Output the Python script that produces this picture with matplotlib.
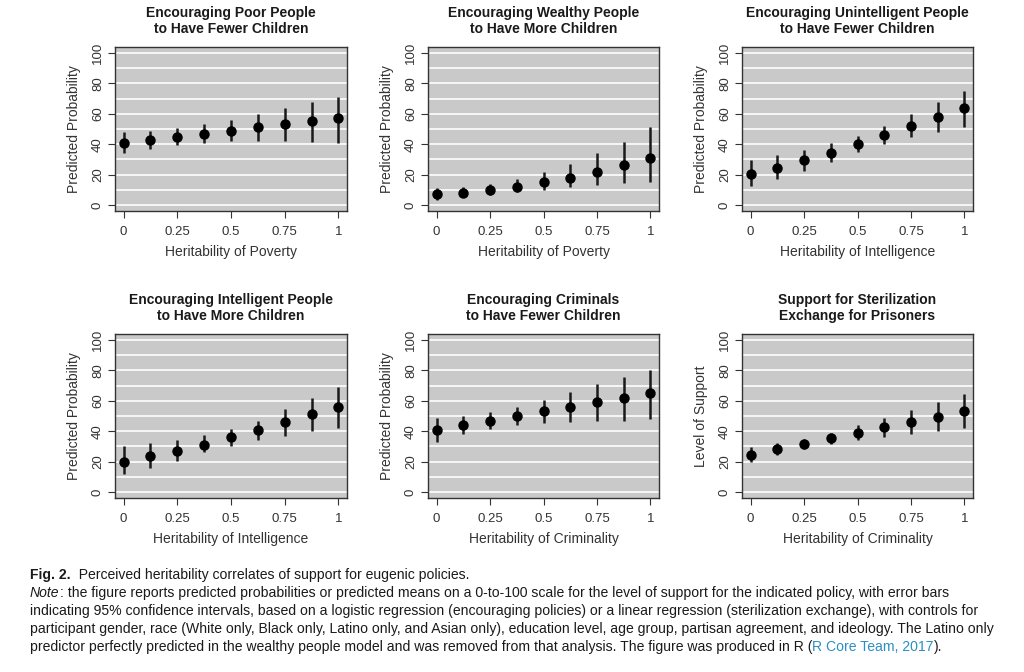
import numpy as np
import matplotlib
matplotlib.use("Agg")
import matplotlib.pyplot as plt
from matplotlib import font_manager

# heritability levels on the x axis
heritability = [0, 0.125, 0.25, 0.375, 0.5, 0.625, 0.75, 0.875, 1]
xtick_vals = [0, 0.25, 0.5, 0.75, 1]
xtick_labels = ["0", "0.25", "0.5", "0.75", "1"]
ytick_vals = [0, 20, 40, 60, 80, 100]

titles = [
    "Encouraging Poor People\nto Have Fewer Children",
    "Encouraging Wealthy People\nto Have More Children",
    "Encouraging Unintelligent People\nto Have Fewer Children",
    "Encouraging Intelligent People\nto Have More Children",
    "Encouraging Criminals\nto Have Fewer Children",
    "Support for Sterilization\nExchange for Prisoners",
]
xlabels = [
    "Heritability of Poverty",
    "Heritability of Poverty",
    "Heritability of Intelligence",
    "Heritability of Intelligence",
    "Heritability of Criminality",
    "Heritability of Criminality",
]
ylabels = ["Predicted Probability"] * 5 + ["Level of Support"]

# predicted values and 95% CI
poor_est = [41, 43, 45, 47, 49, 51, 53, 55, 57]
poor_lo = [34, 37, 39.5, 41, 42, 42, 42, 41.5, 41]
poor_hi = [48, 49, 50.5, 53, 56, 60, 64, 68, 71]

wealthy_est = [7, 8, 10, 12, 15, 18, 22, 26, 31]
wealthy_lo = [3.5, 5, 6.5, 8.5, 10, 11.5, 13, 14.5, 15]
wealthy_hi = [11, 12, 14, 17, 21.5, 27, 34, 41.5, 51]

unintel_est = [20.5, 24.5, 29.5, 34.5, 40, 46, 52, 58, 64]
unintel_lo = [12.5, 17, 22.5, 28.5, 35, 40, 44.5, 48, 51.5]
unintel_hi = [29.5, 33, 36, 40.5, 45.5, 52, 60, 68, 75]

intel_est = [20, 23.5, 27, 31, 36, 40.5, 46, 51, 56]
intel_lo = [12, 16, 20.5, 26, 30.5, 34, 37, 40, 42]
intel_hi = [30, 32, 34.5, 37.5, 41.5, 47, 54.5, 62, 69]

crim_est = [40.5, 44, 46.5, 50, 53, 56, 59, 62, 65]
crim_lo = [33, 38, 41.5, 44, 45.5, 46, 47, 47, 48]
crim_hi = [48.5, 50, 52.5, 56, 60.5, 66, 71, 76, 80]

steril_est = [24.5, 28, 31.5, 35.5, 39, 42.5, 46, 49.5, 53]
steril_lo = [19.5, 24, 28, 31.5, 34, 36, 38, 40, 42]
steril_hi = [29.5, 32, 35, 39, 44, 48.5, 54, 59, 64.5]

estimates = [poor_est, wealthy_est, unintel_est, intel_est, crim_est, steril_est]
lowers = [poor_lo, wealthy_lo, unintel_lo, intel_lo, crim_lo, steril_lo]
uppers = [poor_hi, wealthy_hi, unintel_hi, intel_hi, crim_hi, steril_hi]

plt.rcParams['font.family'] = ['Liberation Sans', 'DejaVu Sans']

W, H = 1024, 672
fig = plt.figure(figsize=(W / 100, H / 100), dpi=100)

# axes boxes in pixels: (left, right) and (top, bottom)
col_px = [(115, 347), (428, 659), (742, 973)]
row_px = [(47, 211), (334, 498)]

for i in range(6):
    r, c = divmod(i, 3)
    l, rr = col_px[c]
    t, b = row_px[r]
    ax = fig.add_axes([l / W, 1 - b / H, (rr - l) / W, (b - t) / H])
    ax.set_facecolor("#c9c9c9")
    for yv in range(0, 101, 10):
        ax.axhline(yv, color="white", lw=1.2, zorder=1)
    ax.vlines(heritability, lowers[i], uppers[i], color="#1a1a1a", lw=1.8, zorder=2)
    ax.plot(heritability, estimates[i], "o", color="black", ms=6.5, zorder=3)
    ax.set_xlim(-0.04, 1.04)
    ax.set_ylim(-4, 104)
    ax.set_xticks(xtick_vals)
    ax.set_xticklabels(xtick_labels)
    ax.set_yticks(ytick_vals)
    ax.set_yticklabels([str(v) for v in ytick_vals], rotation=90, va="center")
    ax.tick_params(direction="out", length=5, width=0.8, color="#333333",
                   labelcolor="#333333", labelsize=9.5)
    ax.tick_params(axis="y", pad=3)
    ax.tick_params(axis="x", pad=6)
    for sp in ax.spines.values():
        sp.set_color("#333333")
        sp.set_linewidth(1.0)
    ax.set_xlabel(xlabels[i], fontsize=10, color="#333333", labelpad=5)
    ax.set_ylabel(ylabels[i], fontsize=10, color="#333333", labelpad=8)
    ax.set_title(titles[i], fontsize=10, fontweight="bold", color="#1a1a1a",
                 pad=10, linespacing=1.15)

# caption below the panels
names = {f.name for f in font_manager.fontManager.ttflist}
if "Liberation Sans Narrow" in names:
    cap_font = ["Liberation Sans Narrow", "DejaVu Sans"]
    cap_size = 10.2
else:
    cap_font = ["Liberation Sans", "DejaVu Sans"]
    cap_size = 10.1
cap_color = "#1a1a1a"
link_color = "#2a8fc4"

lines = [
    [("Fig. 2.", "bold"), ("  Perceived heritability correlates of support for eugenic policies.", "")],
    [("Note", "italic"), (": the figure reports predicted probabilities or predicted means on a 0-to-100 scale for the level of support for the indicated policy, with error bars", "")],
    [("indicating 95% confidence intervals, based on a logistic regression (encouraging policies) or a linear regression (sterilization exchange), with controls for", "")],
    [("participant gender, race (White only, Black only, Latino only, and Asian only), education level, age group, partisan agreement, and ideology. The Latino only", "")],
    [("predictor perfectly predicted in the wealthy people model and was removed from that analysis. The figure was produced in R (", ""),
     ("R Core Team, 2017", "link"), (").", "")],
]
line_y = [582, 600, 618, 636, 654]

ax0 = fig.axes[0]
for pieces, yb in zip(lines, line_y):
    prev = None
    for txt, style in pieces:
        kw = dict(fontsize=cap_size, family=cap_font, color=cap_color)
        if style == "bold":
            kw["fontweight"] = "bold"
        elif style == "italic":
            kw["fontstyle"] = "italic"
        elif style == "link":
            kw["color"] = link_color
        if prev is None:
            prev = fig.text(30 / W, 1 - yb / H, txt, ha="left", va="bottom", **kw)
        else:
            prev = ax0.annotate(txt, xy=(1, 0), xycoords=prev, ha="left",
                                va="bottom", annotation_clip=False, **kw)

fig.savefig("out.png", dpi=100)
